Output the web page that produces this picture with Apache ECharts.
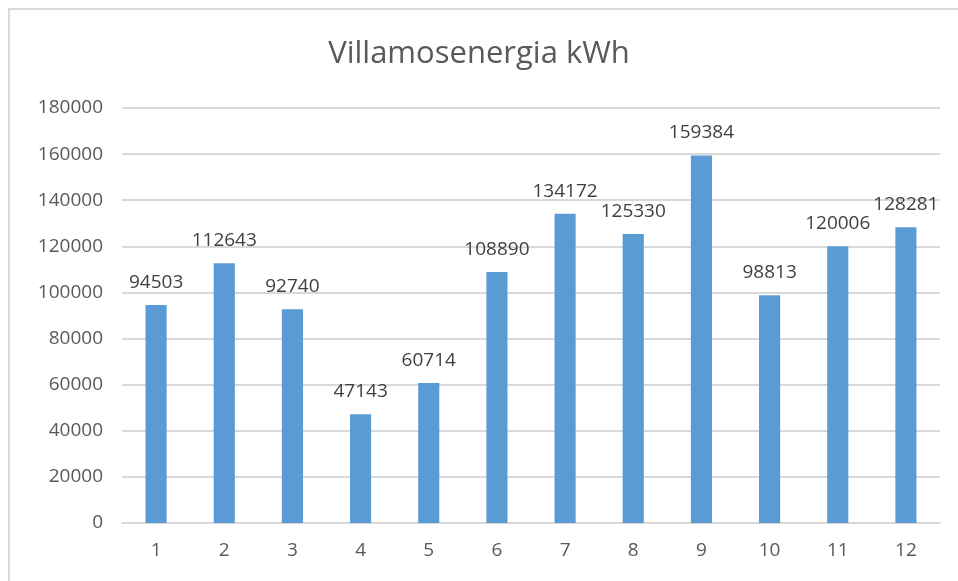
<!DOCTYPE html>
<html>
<head>
<meta charset="utf-8">
<script src="https://cdn.jsdelivr.net/npm/echarts@6/dist/echarts.min.js"></script>
<style>
  html, body { margin: 0; padding: 0; background: #fff; }
  #frame { position: absolute; left: 8px; top: 8px; width: 960px; height: 580px;
           border-left: 2px solid #d9d9d9; border-top: 2px solid #d9d9d9; }
  #chart { position: absolute; left: 0; top: 0; width: 958px; height: 581px; }
</style>
</head>
<body>
<div id="frame"></div>
<div id="chart"></div>
<script>
var months = ['1', '2', '3', '4', '5', '6', '7', '8', '9', '10', '11', '12'];
var kwh = [94503, 112643, 92740, 47143, 60714, 108890, 134172, 125330, 159384, 98813, 120006, 128281];

var myChart = echarts.init(document.getElementById('chart'));
var font = 'Open Sans, Liberation Sans, sans-serif';
myChart.setOption({
  animation: false,
  title: {
    text: 'Villamosenergia kWh',
    left: 'center',
    top: 34,
    textStyle: { fontFamily: font, fontSize: 31, fontWeight: 'normal', color: '#595959' }
  },
  grid: { left: 122, right: 18, top: 108, bottom: 58 },
  xAxis: {
    type: 'category',
    data: months,
    axisLine: { lineStyle: { color: '#d9d9d9', width: 2 } },
    axisTick: { show: false },
    axisLabel: { margin: 18, fontFamily: font, fontSize: 19, color: '#595959' }
  },
  yAxis: {
    type: 'value',
    min: 0,
    max: 180000,
    interval: 20000,
    axisLine: { show: false },
    axisTick: { show: false },
    axisLabel: {
      margin: 19, fontFamily: font, fontSize: 19, color: '#595959',
      formatter: function (v) { return String(v); }
    },
    splitLine: { lineStyle: { color: '#d9d9d9', width: 2 } }
  },
  series: [{
    type: 'bar',
    data: kwh,
    barWidth: '31%',
    itemStyle: { color: '#5b9bd5' },
    label: {
      show: true,
      position: 'top',
      distance: 13,
      fontFamily: font,
      fontSize: 19,
      color: '#404040'
    }
  }]
});
</script>
</body>
</html>
